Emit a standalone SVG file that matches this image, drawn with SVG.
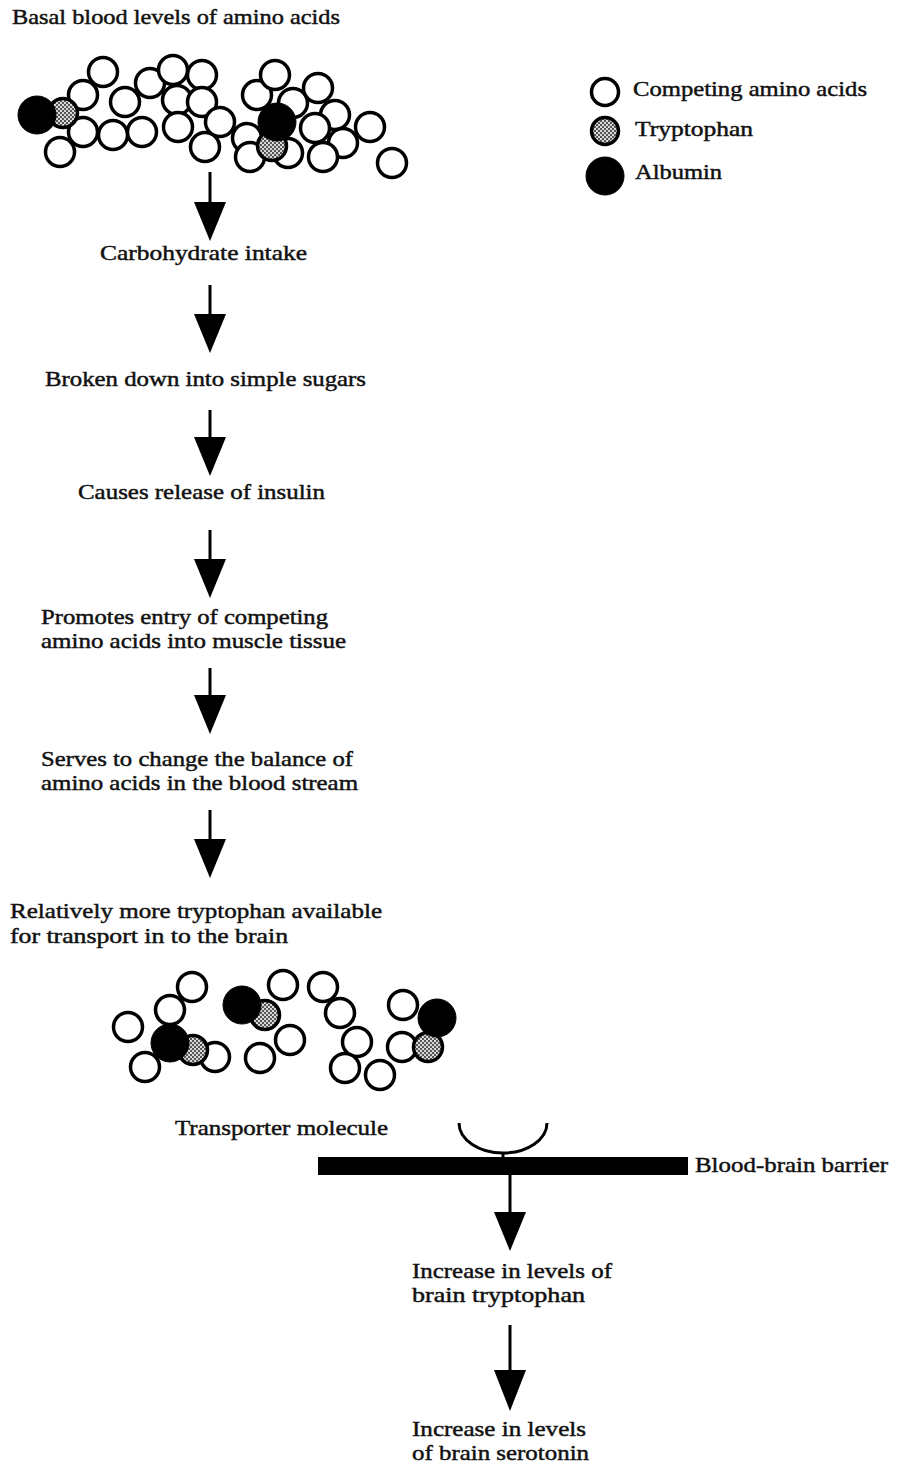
<svg xmlns="http://www.w3.org/2000/svg" width="900" height="1467" viewBox="0 0 900 1467">
<style>
text{font-family:"Liberation Serif","DejaVu Serif",serif;font-size:21px;fill:#111;stroke:#111;stroke-width:0.45;}
.aa{fill:#fff;stroke:#000;stroke-width:3.5;}
.trp{fill:url(#dots);stroke:#000;stroke-width:3.5;}
.alb{fill:#000;stroke:#000;stroke-width:1;}
.ln{stroke:#000;stroke-width:3;fill:none;}
.hd{fill:#000;}
</style>
<defs>
<pattern id="dots" width="4" height="4" patternUnits="userSpaceOnUse">
<rect width="4" height="4" fill="#d8d8d8"/>
<rect width="2" height="2" fill="#555"/>
<rect x="2" y="2" width="2" height="2" fill="#555"/>
</pattern>
</defs>
<rect width="900" height="1467" fill="#fff"/>

<g id="top-cluster">
<circle class="aa" cx="103" cy="72" r="14.5"/>
<circle class="aa" cx="83" cy="95" r="14.5"/>
<circle class="aa" cx="125" cy="102" r="14.5"/>
<circle class="aa" cx="150" cy="83" r="14.5"/>
<circle class="aa" cx="173" cy="70" r="14.5"/>
<circle class="aa" cx="202" cy="75" r="14.5"/>
<circle class="aa" cx="177" cy="100" r="14.5"/>
<circle class="aa" cx="202" cy="102" r="14.5"/>
<circle class="aa" cx="220" cy="122" r="14.5"/>
<circle class="aa" cx="178" cy="127" r="14.5"/>
<circle class="aa" cx="205" cy="147" r="14.5"/>
<circle class="aa" cx="83" cy="132" r="14.5"/>
<circle class="aa" cx="113" cy="135" r="14.5"/>
<circle class="aa" cx="142" cy="132" r="14.5"/>
<circle class="aa" cx="60" cy="152" r="14.5"/>
<circle class="trp" cx="63" cy="113" r="14.5"/>
<circle class="alb" cx="37" cy="115" r="19"/>
<circle class="aa" cx="257" cy="95" r="14.5"/>
<circle class="aa" cx="275" cy="75" r="14.5"/>
<circle class="aa" cx="293" cy="103" r="14.5"/>
<circle class="aa" cx="318" cy="88" r="14.5"/>
<circle class="aa" cx="335" cy="115" r="14.5"/>
<circle class="aa" cx="315" cy="128" r="14.5"/>
<circle class="aa" cx="343" cy="143" r="14.5"/>
<circle class="aa" cx="323" cy="157" r="14.5"/>
<circle class="aa" cx="370" cy="127" r="14.5"/>
<circle class="aa" cx="392" cy="163" r="14.5"/>
<circle class="aa" cx="247" cy="138" r="14.5"/>
<circle class="aa" cx="250" cy="157" r="14.5"/>
<circle class="aa" cx="288" cy="153" r="14.5"/>
<circle class="trp" cx="272" cy="146" r="14.5"/>
<circle class="alb" cx="277" cy="122" r="19"/>
</g>

<g id="legend">
<circle class="aa" cx="605" cy="92" r="13.5"/>
<circle class="trp" cx="605" cy="131" r="13.5"/>
<circle class="alb" cx="605" cy="176" r="19"/>
<text x="633" y="96" textLength="234" lengthAdjust="spacingAndGlyphs">Competing amino acids</text>
<text x="635" y="136" textLength="118" lengthAdjust="spacingAndGlyphs">Tryptophan</text>
<text x="635" y="179" textLength="87" lengthAdjust="spacingAndGlyphs">Albumin</text>
</g>

<g id="n-basal"><text x="12" y="24" textLength="328" lengthAdjust="spacingAndGlyphs">Basal blood levels of amino acids</text></g>
<g id="n-carb"><text x="100" y="260" textLength="207" lengthAdjust="spacingAndGlyphs">Carbohydrate intake</text></g>
<g id="n-broken"><text x="45" y="386" textLength="321" lengthAdjust="spacingAndGlyphs">Broken down into simple sugars</text></g>
<g id="n-insulin"><text x="78" y="499" textLength="247" lengthAdjust="spacingAndGlyphs">Causes release of insulin</text></g>
<g id="n-promotes"><text x="41" y="624" textLength="287" lengthAdjust="spacingAndGlyphs">Promotes entry of competing</text><text x="41" y="648" textLength="305" lengthAdjust="spacingAndGlyphs">amino acids into muscle tissue</text></g>
<g id="n-serves"><text x="41" y="766" textLength="312" lengthAdjust="spacingAndGlyphs">Serves to change the balance of</text><text x="41" y="790" textLength="317" lengthAdjust="spacingAndGlyphs">amino acids in the blood stream</text></g>
<g id="n-relatively"><text x="10" y="918" textLength="372" lengthAdjust="spacingAndGlyphs">Relatively more tryptophan available</text><text x="10" y="943" textLength="278" lengthAdjust="spacingAndGlyphs">for transport in to the brain</text></g>

<g id="bottom-cluster">
<circle class="aa" cx="128" cy="1027" r="14.5"/>
<circle class="aa" cx="170" cy="1010" r="14.5"/>
<circle class="aa" cx="192" cy="987" r="14.5"/>
<circle class="aa" cx="215" cy="1057" r="14.5"/>
<circle class="aa" cx="145" cy="1067" r="14.5"/>
<circle class="trp" cx="193" cy="1050" r="14.5"/>
<circle class="alb" cx="170" cy="1043" r="19"/>
<circle class="trp" cx="265" cy="1015" r="14.5"/>
<circle class="alb" cx="242" cy="1005" r="19"/>
<circle class="aa" cx="283" cy="985" r="14.5"/>
<circle class="aa" cx="290" cy="1040" r="14.5"/>
<circle class="aa" cx="260" cy="1058" r="14.5"/>
<circle class="aa" cx="323" cy="987" r="14.5"/>
<circle class="aa" cx="340" cy="1013" r="14.5"/>
<circle class="aa" cx="357" cy="1042" r="14.5"/>
<circle class="aa" cx="345" cy="1068" r="14.5"/>
<circle class="aa" cx="380" cy="1075" r="14.5"/>
<circle class="aa" cx="403" cy="1005" r="14.5"/>
<circle class="aa" cx="402" cy="1047" r="14.5"/>
<circle class="trp" cx="428" cy="1047" r="14.5"/>
<circle class="alb" cx="437" cy="1018" r="19"/>
</g>

<g id="n-transporter"><text x="175" y="1135" textLength="213" lengthAdjust="spacingAndGlyphs">Transporter molecule</text>
<path class="ln" d="M459 1123 A44 30 0 0 0 547 1123"/></g>
<g id="n-barrier"><rect x="318" y="1157" width="370" height="18" fill="#000"/>
<text x="695" y="1172" textLength="193" lengthAdjust="spacingAndGlyphs">Blood-brain barrier</text></g>
<g id="n-trp-brain"><text x="412" y="1278" textLength="200" lengthAdjust="spacingAndGlyphs">Increase in levels of</text><text x="412" y="1302" textLength="173" lengthAdjust="spacingAndGlyphs">brain tryptophan</text></g>
<g id="n-serotonin"><text x="412" y="1436" textLength="174" lengthAdjust="spacingAndGlyphs">Increase in levels</text><text x="412" y="1460" textLength="177" lengthAdjust="spacingAndGlyphs">of brain serotonin</text></g>

<g id="connectors">
<line class="ln" x1="210" y1="172" x2="210" y2="206"/><path class="hd" d="M194 202 L226 202 L210 241 Z"/>
<line class="ln" x1="210" y1="285" x2="210" y2="318"/><path class="hd" d="M194 314 L226 314 L210 353 Z"/>
<line class="ln" x1="210" y1="410" x2="210" y2="441"/><path class="hd" d="M194 437 L226 437 L210 476 Z"/>
<line class="ln" x1="210" y1="530" x2="210" y2="563"/><path class="hd" d="M194 559 L226 559 L210 598 Z"/>
<line class="ln" x1="210" y1="668" x2="210" y2="699"/><path class="hd" d="M194 695 L226 695 L210 734 Z"/>
<line class="ln" x1="210" y1="810" x2="210" y2="843"/><path class="hd" d="M194 839 L226 839 L210 878 Z"/>
<line class="ln" x1="503" y1="1153" x2="503" y2="1160"/>
<line class="ln" x1="510" y1="1175" x2="510" y2="1216"/><path class="hd" d="M494 1212 L526 1212 L510 1251 Z"/>
<line class="ln" x1="510" y1="1325" x2="510" y2="1374"/><path class="hd" d="M494 1370 L526 1370 L510 1411 Z"/>
</g>
</svg>
